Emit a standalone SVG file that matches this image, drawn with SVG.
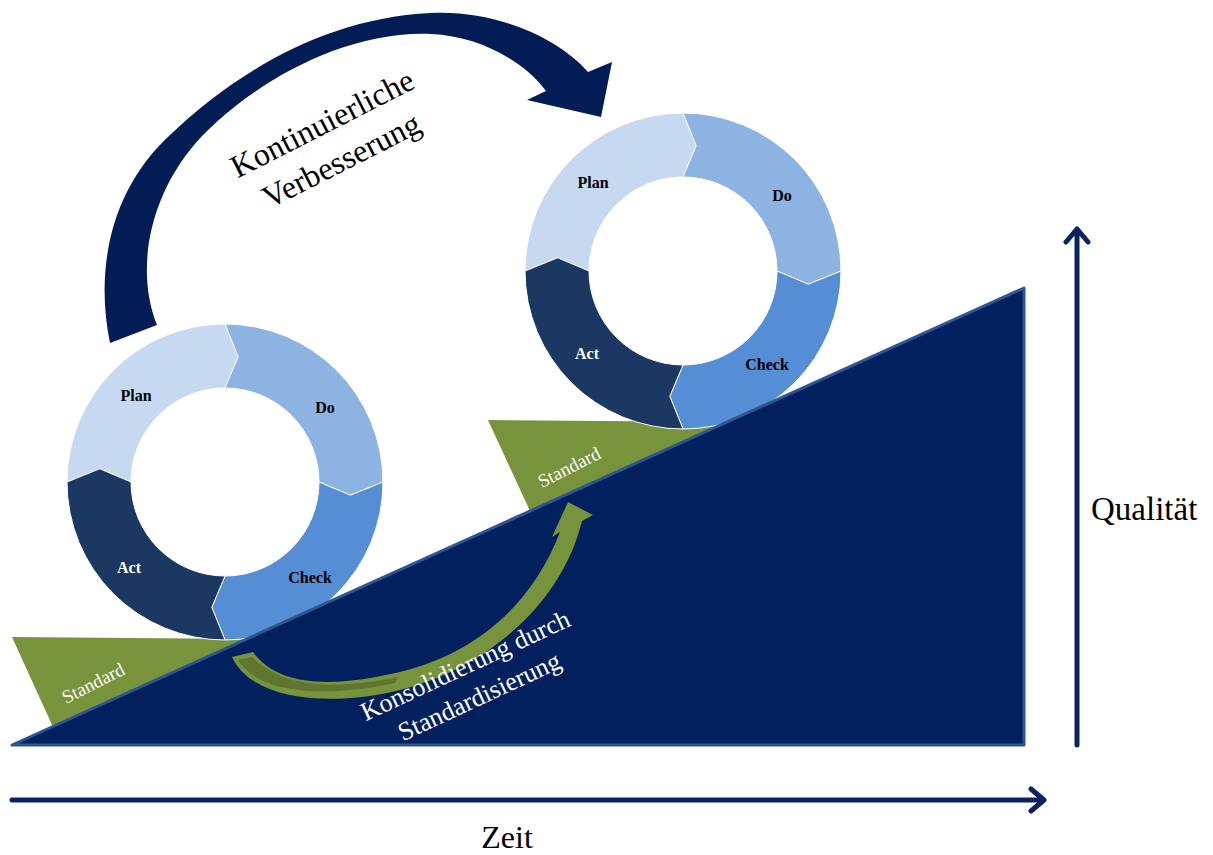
<svg xmlns="http://www.w3.org/2000/svg" xmlns:xlink="http://www.w3.org/1999/xlink" width="1213" height="855" viewBox="0 0 1213 855">
<style>
.serif{font-family:"Liberation Serif","Times New Roman",serif;}
.lbl{font-family:"Liberation Serif","Times New Roman",serif;font-weight:bold;font-size:16px;text-anchor:middle;}
.axis{fill:none;stroke:#0b2262;stroke-width:5;stroke-linecap:round;stroke-linejoin:round;}
.wedge{fill:#77933c;}
.plan{fill:#c6d9f1;stroke:#ffffff;stroke-width:1;}
.do{fill:#8db3e2;stroke:#ffffff;stroke-width:1;}
.check{fill:#558ed5;stroke:#ffffff;stroke-width:1;}
.act{fill:#1b3862;stroke:#ffffff;stroke-width:1;}
</style>
<defs>
<path id="segPlan" d="M-158,0 A158,158 0 0 1 0,-158 L13.2,-125.3 L0,-94 A94,94 0 0 0 -94,0 L-125.3,-13.2 Z"/>
<path id="segDo" d="M0,-158 A158,158 0 0 1 158,0 L125.3,13.2 L94,0 A94,94 0 0 0 0,-94 L13.2,-125.3 Z"/>
<path id="segCheck" d="M158,0 A158,158 0 0 1 0,158 L-13.2,125.3 L0,94 A94,94 0 0 0 94,0 L125.3,13.2 Z"/>
<path id="segAct" d="M0,158 A158,158 0 0 1 -158,0 L-125.3,-13.2 L-94,0 A94,94 0 0 0 0,94 L-13.2,125.3 Z"/>
</defs>

<!-- Standard wedges -->
<g id="standard-left">
<polygon class="wedge" points="12,637 248,639 53,727"/>
<text class="serif" font-size="19" fill="#ffffff" text-anchor="middle" transform="translate(93,683) rotate(-27)" dy="0.35em">Standard</text>
</g>
<g id="standard-right">
<polygon class="wedge" points="488,420 726,422 530,511"/>
<text class="serif" font-size="19" fill="#ffffff" text-anchor="middle" transform="translate(569,467) rotate(-27)" dy="0.35em">Standard</text>
</g>

<!-- PDCA cycle left -->
<g id="pdca-left" transform="translate(225,482)">
<use xlink:href="#segPlan" class="plan"/>
<use xlink:href="#segDo" class="do"/>
<use xlink:href="#segCheck" class="check"/>
<use xlink:href="#segAct" class="act"/>
<text class="lbl" x="-89" y="-81" fill="#000">Plan</text>
<text class="lbl" x="100" y="-69" fill="#000">Do</text>
<text class="lbl" x="85" y="101" fill="#000">Check</text>
<text class="lbl" x="-96" y="91" fill="#fff">Act</text>
</g>

<!-- PDCA cycle right -->
<g id="pdca-right" transform="translate(683,271)">
<use xlink:href="#segPlan" class="plan"/>
<use xlink:href="#segDo" class="do"/>
<use xlink:href="#segCheck" class="check"/>
<use xlink:href="#segAct" class="act"/>
<text class="lbl" x="-90" y="-83" fill="#000">Plan</text>
<text class="lbl" x="99" y="-70" fill="#000">Do</text>
<text class="lbl" x="84" y="99" fill="#000">Check</text>
<text class="lbl" x="-96" y="88" fill="#fff">Act</text>
</g>

<!-- Ramp -->
<g id="ramp">
<polygon points="12,745 1024,288 1024,745" fill="#02205e" stroke="#2c5691" stroke-width="3" stroke-linejoin="round"/>
</g>

<!-- Connectors -->
<g id="connectors">
<!-- big curved arrow: Kontinuierliche Verbesserung -->
<path d="M110,343 C95,270 110,190 170,135 C230,78 320,18 431,13 C500,10 560,40 588,72 L612,62 L601,117 L527,100 L546,91 C525,62 480,36 431,34 C330,30 230,100 190,150 C150,200 135,270 157,325 Z" fill="#021c55"/>
<!-- green curved arrow: Konsolidierung -->
<path d="M232,657 C255,705 340,705 400,690 C480,670 560,610 582,521 L593,515 L568,502 L552,537 L560,532 C530,610 470,655 400,672 C340,686 280,690 253,652 Z" fill="#77933c"/>
<path d="M238,660 C260,696 330,697 395,683 L398,677 C340,689 285,690 252,657 Z" fill="#5f7530"/>
<!-- axes -->
<path class="axis" d="M12,800 L1043,800 M1031,789 L1044,800 L1031,811"/>
<path class="axis" d="M1077,745 L1077,230 M1066,242 L1077,229 L1088,242"/>
</g>

<!-- Texts -->
<g id="label-kvp">
<text class="serif" font-size="32" fill="#000" text-anchor="middle" transform="translate(322,123) rotate(-27)" dy="0.35em">Kontinuierliche</text>
<text class="serif" font-size="32" fill="#000" text-anchor="middle" transform="translate(341,160) rotate(-27)" dy="0.35em">Verbesserung</text>
</g>
<g id="label-konsolidierung">
<text class="serif" font-size="26" fill="#ffffff" text-anchor="middle" transform="translate(465,665) rotate(-25)" dy="0.35em">Konsolidierung durch</text>
<text class="serif" font-size="26" fill="#ffffff" text-anchor="middle" transform="translate(479,696) rotate(-25)" dy="0.35em">Standardisierung</text>
</g>
<g id="label-zeit">
<text class="serif" font-size="32" fill="#000" x="507" y="848" text-anchor="middle">Zeit</text>
</g>
<g id="label-qualitaet">
<text class="serif" font-size="33" fill="#000" x="1091" y="520">Qualität</text>
</g>
</svg>
